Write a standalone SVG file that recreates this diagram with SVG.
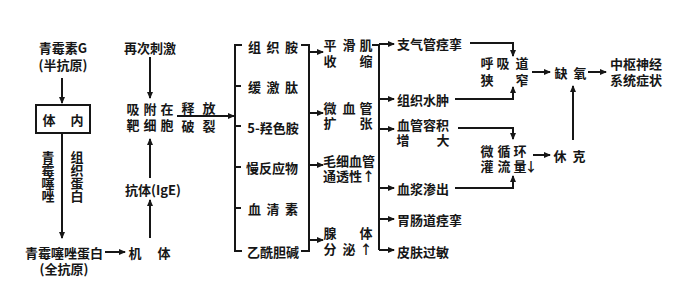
<svg xmlns="http://www.w3.org/2000/svg" width="699" height="295" viewBox="0 0 699 295">
<style>
.t{font-family:"Noto Sans CJK SC","Noto Sans CJK JP",sans-serif;font-size:13px;font-weight:bold;fill:#161616;dominant-baseline:central}
.v{font-family:"Noto Sans CJK SC","Noto Sans CJK JP",sans-serif;font-size:13px;font-weight:bold;fill:#161616;writing-mode:vertical-rl;text-orientation:upright}
.m{text-anchor:middle}
.ln{stroke:#161616;stroke-width:2;fill:none}
.ar{stroke:#161616;stroke-width:2;fill:none;marker-end:url(#a)}
</style>
<defs>
<marker id="a" markerWidth="7" markerHeight="6" refX="6" refY="3" orient="auto" markerUnits="userSpaceOnUse"><path d="M0,0 L7,3 L0,6 z" fill="#161616"/></marker>
</defs>
<rect width="699" height="295" fill="#fff"/>

<g id="penicillin"><text class="t m" x="63" y="47">青霉素G</text><text class="t m" x="63" y="64">(半抗原)</text></g>
<g id="tinei"><rect class="ln" x="36" y="105" width="54" height="28"/><text class="t"><tspan x="49" y="119" text-anchor="middle">体</tspan><tspan x="77" y="119" text-anchor="middle">内</tspan></text></g>
<g id="lbl-a"><text class="v" x="48" y="151">青霉噻唑</text></g>
<g id="lbl-b"><text class="v" x="77" y="151">组织蛋白</text></g>
<g id="fullantigen"><text class="t m" x="64" y="252">青霉噻唑蛋白</text><text class="t m" x="64" y="268">(全抗原)</text></g>
<g id="body"><text class="t m"><tspan x="135" y="252">机</tspan><tspan x="164" y="252">体</tspan></text></g>
<g id="restim"><text class="t m" x="150" y="47">再次刺激</text></g>
<g id="adsorb"><text class="t m"><tspan x="133" y="108">吸</tspan><tspan x="150" y="108">附</tspan><tspan x="167" y="108">在</tspan><tspan x="133" y="124">靶</tspan><tspan x="150" y="124">细</tspan><tspan x="167" y="124">胞</tspan></text></g>
<g id="release"><text class="t m"><tspan x="188" y="107">释</tspan><tspan x="209" y="107">放</tspan><tspan x="188" y="125">破</tspan><tspan x="209" y="125">裂</tspan></text></g>
<g id="ige"><text class="t m" x="153" y="189">抗体(IgE)</text></g>

<g id="mediators">
<text class="t m" x="273" y="46" textLength="50" lengthAdjust="spacing">组织胺</text>
<text class="t m" x="273" y="86" textLength="50" lengthAdjust="spacing">缓激肽</text>
<text class="t m" x="273" y="127">5-羟色胺</text>
<text class="t m" x="272" y="167">慢反应物</text>
<text class="t m" x="273" y="208" textLength="50" lengthAdjust="spacing">血清素</text>
<text class="t m" x="273" y="251">乙酰胆碱</text>
</g>

<g id="smooth"><text class="t m"><tspan x="330" y="44">平</tspan><tspan x="349" y="44">滑</tspan><tspan x="366" y="44">肌</tspan><tspan x="330" y="60">收</tspan><tspan x="366" y="60">缩</tspan></text></g>
<g id="microvessel"><text class="t m"><tspan x="330" y="107">微</tspan><tspan x="349" y="107">血</tspan><tspan x="366" y="107">管</tspan><tspan x="330" y="122">扩</tspan><tspan x="366" y="122">张</tspan></text></g>
<g id="capillary"><text class="t" x="323" y="160">毛细血管</text><text class="t" x="323" y="175">通透性↑</text></g>
<g id="gland"><text class="t m"><tspan x="330" y="232">腺</tspan><tspan x="366" y="232">体</tspan><tspan x="330" y="248">分</tspan><tspan x="349" y="248">泌</tspan><tspan x="366" y="248">↑</tspan></text></g>

<g id="effects">
<text class="t" x="397" y="43">支气管痉挛</text>
<text class="t" x="397" y="99">组织水肿</text>
<text class="t" x="397" y="124">血管容积</text>
<text class="t m"><tspan x="403" y="139">增</tspan><tspan x="443" y="139">大</tspan></text>
<text class="t" x="397" y="188">血浆渗出</text>
<text class="t" x="397" y="219">胃肠道痉挛</text>
<text class="t" x="397" y="251">皮肤过敏</text>
</g>

<g id="airway"><text class="t m"><tspan x="487" y="62">呼</tspan><tspan x="503" y="62">吸</tspan><tspan x="522" y="62">道</tspan><tspan x="487" y="79">狭</tspan><tspan x="522" y="79">窄</tspan></text></g>
<g id="microcirc"><text class="t m"><tspan x="487" y="150">微</tspan><tspan x="504" y="150">循</tspan><tspan x="520" y="150">环</tspan><tspan x="487" y="165">灌</tspan><tspan x="504" y="165">流</tspan><tspan x="520" y="165">量</tspan><tspan x="531" y="165">↓</tspan></text></g>
<g id="hypoxia"><text class="t m"><tspan x="561" y="72">缺</tspan><tspan x="580" y="72">氧</tspan></text></g>
<g id="shock"><text class="t m"><tspan x="560" y="155">休</tspan><tspan x="579" y="155">克</tspan></text></g>
<g id="cns"><text class="t" x="610" y="63">中枢神经</text><text class="t" x="610" y="79">系统症状</text></g>

<g id="connectors">
<path class="ar" d="M62,78 V103"/>
<path class="ar" d="M62,133 V238"/>
<path class="ar" d="M105,252 H125"/>
<path class="ar" d="M150,57 V98"/>
<path class="ar" d="M150,178 V139"/>
<path class="ar" d="M150,238 V200"/>
<path class="ar" d="M177,116 H234"/>
<path class="ln" d="M242,45 H235 V251 H242 M235,86 H241 M235,126 H241 M235,167 H241 M235,208 H241"/>
<path class="ln" d="M301,45 H309 V251 H301"/>
<path class="ar" d="M309,52 H323"/>
<path class="ar" d="M309,113 H323"/>
<path class="ar" d="M309,165 H323"/>
<path class="ar" d="M309,240 H323"/>
<path class="ln" d="M372,45 H379 V250"/>
<path class="ar" d="M379,44 H394"/>
<path class="ar" d="M379,99 H394"/>
<path class="ar" d="M379,129 H394"/>
<path class="ar" d="M379,188 H394"/>
<path class="ar" d="M379,219 H394"/>
<path class="ar" d="M379,250 H394"/>
<path class="ar" d="M470,43 H513 V56"/>
<path class="ar" d="M455,99 H513 V87"/>
<path class="ar" d="M458,128 H513 V139"/>
<path class="ar" d="M455,188 H513 V176"/>
<path class="ar" d="M532,72 H550"/>
<path class="ar" d="M533,155 H550"/>
<path class="ar" d="M588,72 H606"/>
<path class="ar" d="M573,140 V86"/>
</g>
</svg>
